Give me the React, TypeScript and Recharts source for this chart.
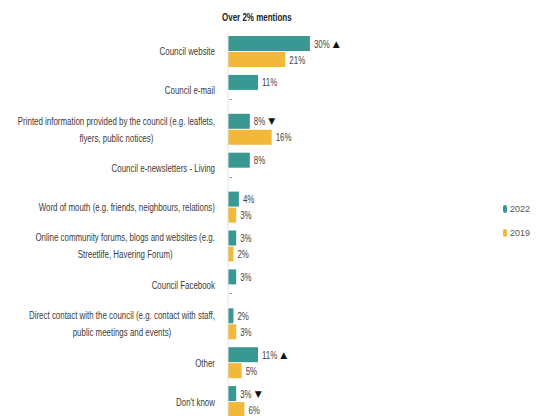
import { BarChart, Bar, XAxis, YAxis, LabelList } from "recharts";

const categories = [
  "Council website",
  "Council e-mail",
  "Printed information provided by the council (e.g. leaflets,\nflyers, public notices)",
  "Council e-newsletters - Living",
  "Word of mouth (e.g. friends, neighbours, relations)",
  "Online community forums, blogs and websites (e.g.\nStreetlife, Havering Forum)",
  "Council Facebook",
  "Direct contact with the council (e.g. contact with staff,\npublic meetings and events)",
  "Other",
  "Don't know",
];
const values2022 = [30, 11, 8, 8, 4, 3, 3, 2, 11, 3];
const values2019: (number | null)[] = [21, null, 16, null, 3, 2, null, 3, 5, 6];
const change2022 = ["up", "", "down", "", "", "", "", "", "up", "down"];
const seriesNames = ["2022", "2019"];

const TEAL = "#3a9892";
const YELLOW = "#f1b83a";
const FONT = '"Liberation Sans Narrow", "Liberation Sans", Arial, sans-serif';
const FS = 11;
const SX = 0.72;
const BAR = 15;
const GAP = 1;

const data = categories.map((c, i) => ({
  name: c,
  v2022: values2022[i],
  v2019: values2019[i],
}));

let ctx: CanvasRenderingContext2D | null = null;
const measure = (s: string, size: number) => {
  if (!ctx) ctx = document.createElement("canvas").getContext("2d");
  if (!ctx) return s.length * size * 0.42;
  ctx.font = `${size}px ${FONT}`;
  return ctx.measureText(s).width;
};

const CategoryTick = ({ x, y, payload }: any) => {
  const lines: string[] = String(payload.value).split("\n");
  const w = Math.max(...lines.map((l) => measure(l, FS))) * SX;
  const cx = x - 11 - w / 2;
  const lh = 17;
  const y0 = y - ((lines.length - 1) * lh) / 2;
  return (
    <g>
      {lines.map((l, i) => (
        <text key={i} x={0} y={0} transform={`translate(${cx},${y0 + i * lh}) scale(${SX},1)`}
          textAnchor="middle" dominantBaseline="central" fontSize={FS} fontFamily={FONT} fill="#3a3a3a">
          {l}
        </text>
      ))}
    </g>
  );
};

const ValueText = ({ x, cy, raw, arrow }: { x: number; cy: number; raw: number; arrow: string }) => {
  const txt = `${raw}%`;
  const tw = measure(txt, FS) * SX;
  return (
    <g>
      <text x={0} y={0} transform={`translate(${x},${cy}) scale(${SX},1)`} dominantBaseline="central"
        fontSize={FS} fontFamily={FONT} fill="#444">{txt}</text>
      {arrow && (
        <text x={x + tw + 3} y={cy} dominantBaseline="central" fontSize={9} fontFamily="DejaVu Sans" fill="#111">
          {arrow === "up" ? "▲" : "▼"}
        </text>
      )}
    </g>
  );
};

// 2022 labels; also draws the "-" for a missing 2019 value just below
const label2022 = (props: any) => {
  const { x, y, width, height, value } = props;
  const i = categories.indexOf(value);
  const cy = y + height / 2;
  return (
    <g>
      <ValueText x={x + width + 4} cy={cy} raw={values2022[i]} arrow={change2022[i]} />
      {values2019[i] == null && (
        <text x={x + 1} y={cy + height + GAP} dominantBaseline="central" fontSize={10} fontFamily={FONT} fill="#888">-</text>
      )}
    </g>
  );
};

const label2019 = (props: any) => {
  const { x, y, width, height, value } = props;
  const i = categories.indexOf(value);
  const raw = values2019[i];
  if (raw == null) return null;
  return <ValueText x={x + width + 4} cy={y + height / 2} raw={raw} arrow="" />;
};

export default function App() {
  return (
    <div style={{ position: "absolute", left: 0, top: 0, width: 536, height: 416, overflow: "hidden", background: "#fff" }}>
      <div style={{ position: "absolute", left: 222, top: 11, fontFamily: FONT, fontSize: 10.5, fontWeight: 600, color: "#222",
        transform: `scaleX(0.76)`, transformOrigin: "left top", whiteSpace: "nowrap" }}>
        Over 2% mentions
      </div>
      <BarChart width={536} height={421} data={data} layout="vertical"
        margin={{ top: 32, right: 35, bottom: 0, left: 0 }} barSize={BAR} barGap={GAP}>
        <XAxis type="number" domain={[0, 100]} hide />
        <YAxis type="category" dataKey="name" width={228} tickLine={false} tickSize={0}
          axisLine={{ stroke: "#e4e4e4" }} tick={<CategoryTick />} interval={0} />
        <Bar dataKey="v2022" name={seriesNames[0]} fill={TEAL} isAnimationActive={false}>
          <LabelList dataKey="name" content={label2022} />
        </Bar>
        <Bar dataKey="v2019" name={seriesNames[1]} fill={YELLOW} isAnimationActive={false}>
          <LabelList dataKey="name" content={label2019} />
        </Bar>
      </BarChart>
      {seriesNames.map((s, i) => (
        <div key={s} style={{ position: "absolute", left: 503, top: 204 + i * 24, display: "flex", alignItems: "center",
          fontFamily: FONT, fontSize: 9, color: "#555" }}>
          <span style={{ width: 4, height: 8, borderRadius: 2, background: i === 0 ? TEAL : YELLOW, marginRight: 3 }} />
          {s}
        </div>
      ))}
    </div>
  );
}
